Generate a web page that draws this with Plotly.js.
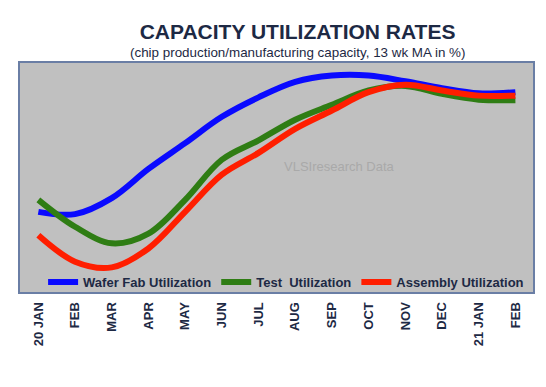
<!DOCTYPE html>
<html>
<head>
<meta charset="utf-8">
<script src="https://cdn.plot.ly/plotly-3.0.1.min.js"></script>
<style>html,body{margin:0;padding:0;background:#fff;}#chart{width:546px;height:387px;}</style>
</head>
<body>
<div id="chart"></div>
<script>
const months = ["20 JAN","FEB","MAR","APR","MAY","JUN","JUL","AUG","SEP","OCT","NOV","DEC","21 JAN","FEB"];
const waferFab = [74.0, 73.6, 76.4, 81.5, 86.0, 90.6, 94.0, 96.7, 97.8, 97.8, 96.8, 95.6, 94.7, 94.9];
const test     = [76.1, 71.4, 68.5, 70.2, 76.1, 83.1, 86.5, 90.1, 92.7, 95.2, 96.0, 94.6, 93.6, 93.5];
const assembly = [69.9, 65.3, 64.3, 67.6, 74.0, 80.5, 84.3, 88.5, 91.7, 94.9, 96.2, 95.2, 94.3, 94.3];
const seriesNames = ["Wafer Fab Utilization", "Test  Utilization", "Assembly Utilization"];

const xIdx = months.map((_, i) => i);
const colors = ["#0a0aff", "#2f7d14", "#ff1e00"];
const txtColor = "#1d2944";

const traces = [waferFab, test, assembly].map((vals, k) => ({
  x: xIdx, y: vals, type: "scatter", mode: "lines", name: seriesNames[k],
  line: {color: colors[k], width: 6, shape: "spline", smoothing: 1}
}));

const layout = {
  width: 546, height: 387,
  margin: {l: 20, r: 13, t: 63, b: 95},
  paper_bgcolor: "#ffffff",
  plot_bgcolor: "#c0c0c0",
  font: {family: "Liberation Sans, Arial, sans-serif", color: txtColor},
  title: {
    text: "<b>CAPACITY UTILIZATION RATES</b>",
    font: {family: "Liberation Sans, Arial, sans-serif", size: 21, color: txtColor},
    x: 0.545, xanchor: "center", xref: "container",
    y: 0.9186, yanchor: "middle", yref: "container"
  },
  xaxis: {
    range: [-0.5, 13.48], tickmode: "array", tickvals: xIdx, ticktext: months,
    tickangle: -90, ticks: "", showgrid: false, zeroline: false,
    showline: true, mirror: true, linecolor: "#6a7ea5", linewidth: 2,
    ticklabelstandoff: 3,
    tickfont: {family: "Liberation Sans, Arial, sans-serif", size: 13, color: txtColor, weight: "bold"}
  },
  yaxis: {
    range: [60, 100], showticklabels: false, ticks: "", showgrid: false, zeroline: false,
    showline: true, mirror: true, linecolor: "#6a7ea5", linewidth: 2
  },
  showlegend: true,
  legend: {
    orientation: "h", x: 0.045, xanchor: "left", y: -0.022, yanchor: "bottom",
    bgcolor: "rgba(0,0,0,0)", borderwidth: 0,
    font: {family: "Liberation Sans, Arial, sans-serif", size: 13, color: txtColor, weight: "bold"}
  },
  annotations: [
    {text: "(chip production/manufacturing capacity, 13 wk MA in %)", xref: "paper", yref: "paper",
     x: 0.5415, y: 1.0445, xanchor: "center", yanchor: "middle", showarrow: false,
     font: {family: "Liberation Sans, Arial, sans-serif", size: 13.4, color: txtColor}},
    {text: "VLSIresearch Data", xref: "paper", yref: "paper",
     x: 0.623, y: 0.549, xanchor: "center", yanchor: "middle", showarrow: false,
     font: {family: "Liberation Sans, Arial, sans-serif", size: 13, color: "#a9a9a9"}}
  ]
};

Plotly.newPlot("chart", traces, layout, {displayModeBar: false, staticPlot: true});
</script>
</body>
</html>
